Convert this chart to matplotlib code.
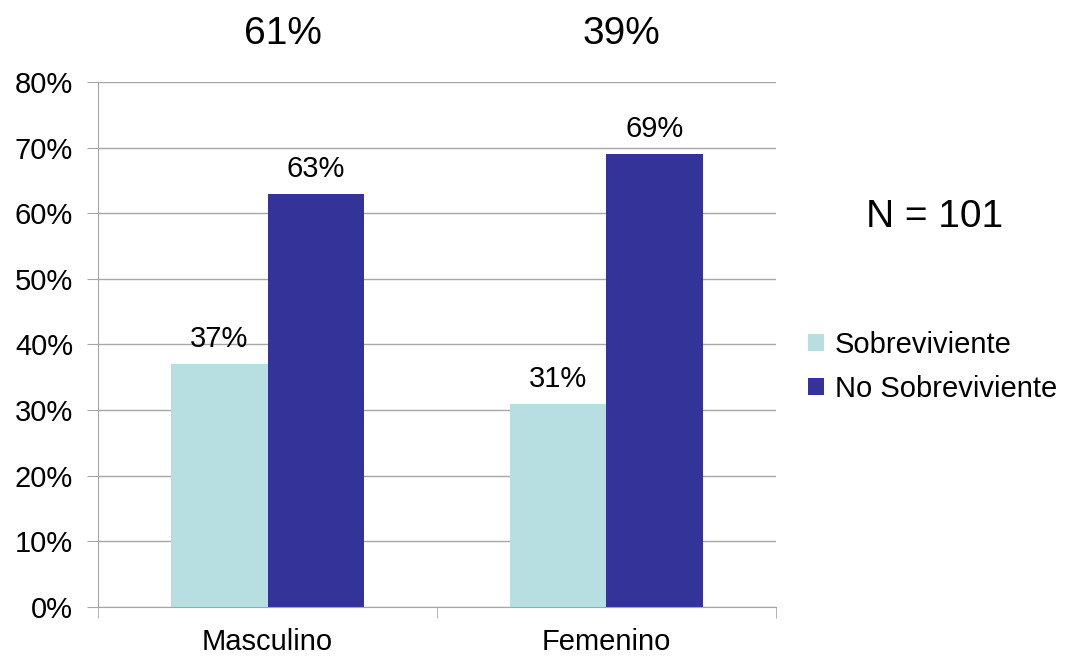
import numpy as np
import matplotlib.pyplot as plt
from matplotlib.ticker import FixedLocator

plt.rcParams['font.family'] = ['Liberation Sans', 'DejaVu Sans']

categories = ['Masculino', 'Femenino']
sobreviviente = [37, 31]
no_sobreviviente = [63, 69]
group_share = ['61%', '39%']
series_names = ['Sobreviviente', 'No Sobreviviente']
total_n = 101

light = '#B7DFE2'
dark = '#333399'
grid_c = '#A6A6A6'

fig = plt.figure(figsize=(10.70, 6.59), dpi=100)
ax = fig.add_axes([0.0916, 0.0789, 0.6336, 0.7967])

x = np.arange(len(categories))
w = 0.286
b1 = ax.bar(x - w / 2, sobreviviente, w, color=light, label=series_names[0], zorder=3)
b2 = ax.bar(x + w / 2, no_sobreviviente, w, color=dark, label=series_names[1], zorder=3)

for bars, vals in [(b1, sobreviviente), (b2, no_sobreviviente)]:
    for r, v in zip(bars, vals):
        ax.annotate(f'{v}%', (r.get_x() + r.get_width() / 2, v),
                    xytext=(0, 18), textcoords='offset points',
                    ha='center', va='center', fontsize=21)

ax.set_xlim(-0.5, 1.5)
ax.set_ylim(0, 80)
ax.set_yticks(np.arange(0, 81, 10))
ax.set_yticklabels([f'{t}%' for t in range(0, 81, 10)], fontsize=21)
ax.set_xticks(x)
ax.set_xticklabels(categories, fontsize=21)
ax.xaxis.set_minor_locator(FixedLocator([-0.5, 0.5, 1.5]))
ax.tick_params(axis='x', which='major', length=0, pad=15)
ax.tick_params(axis='x', which='minor', length=8, color=grid_c)
ax.tick_params(axis='y', length=8, color=grid_c, pad=10)

ax.grid(axis='y', color=grid_c, linewidth=1, zorder=0)
for s in ['top', 'right']:
    ax.spines[s].set_visible(False)
for s in ['left', 'bottom']:
    ax.spines[s].set_color(grid_c)
    ax.spines[s].set_zorder(4)

for xi, lbl in zip(x, group_share):
    ax.text(xi + 0.045, 1.092, lbl, transform=ax.get_xaxis_transform(),
            ha='center', va='center', fontsize=28)

fig.text(0.873, 0.671, f'N = {total_n}', ha='center', va='center', fontsize=28)

fig.legend(loc='upper left', bbox_to_anchor=(0.7445, 0.516), frameon=False,
           fontsize=21, handlelength=0.55, handleheight=0.55, handletextpad=0.35,
           labelspacing=0.55, borderaxespad=0)

fig.savefig('out.png', dpi=100)
